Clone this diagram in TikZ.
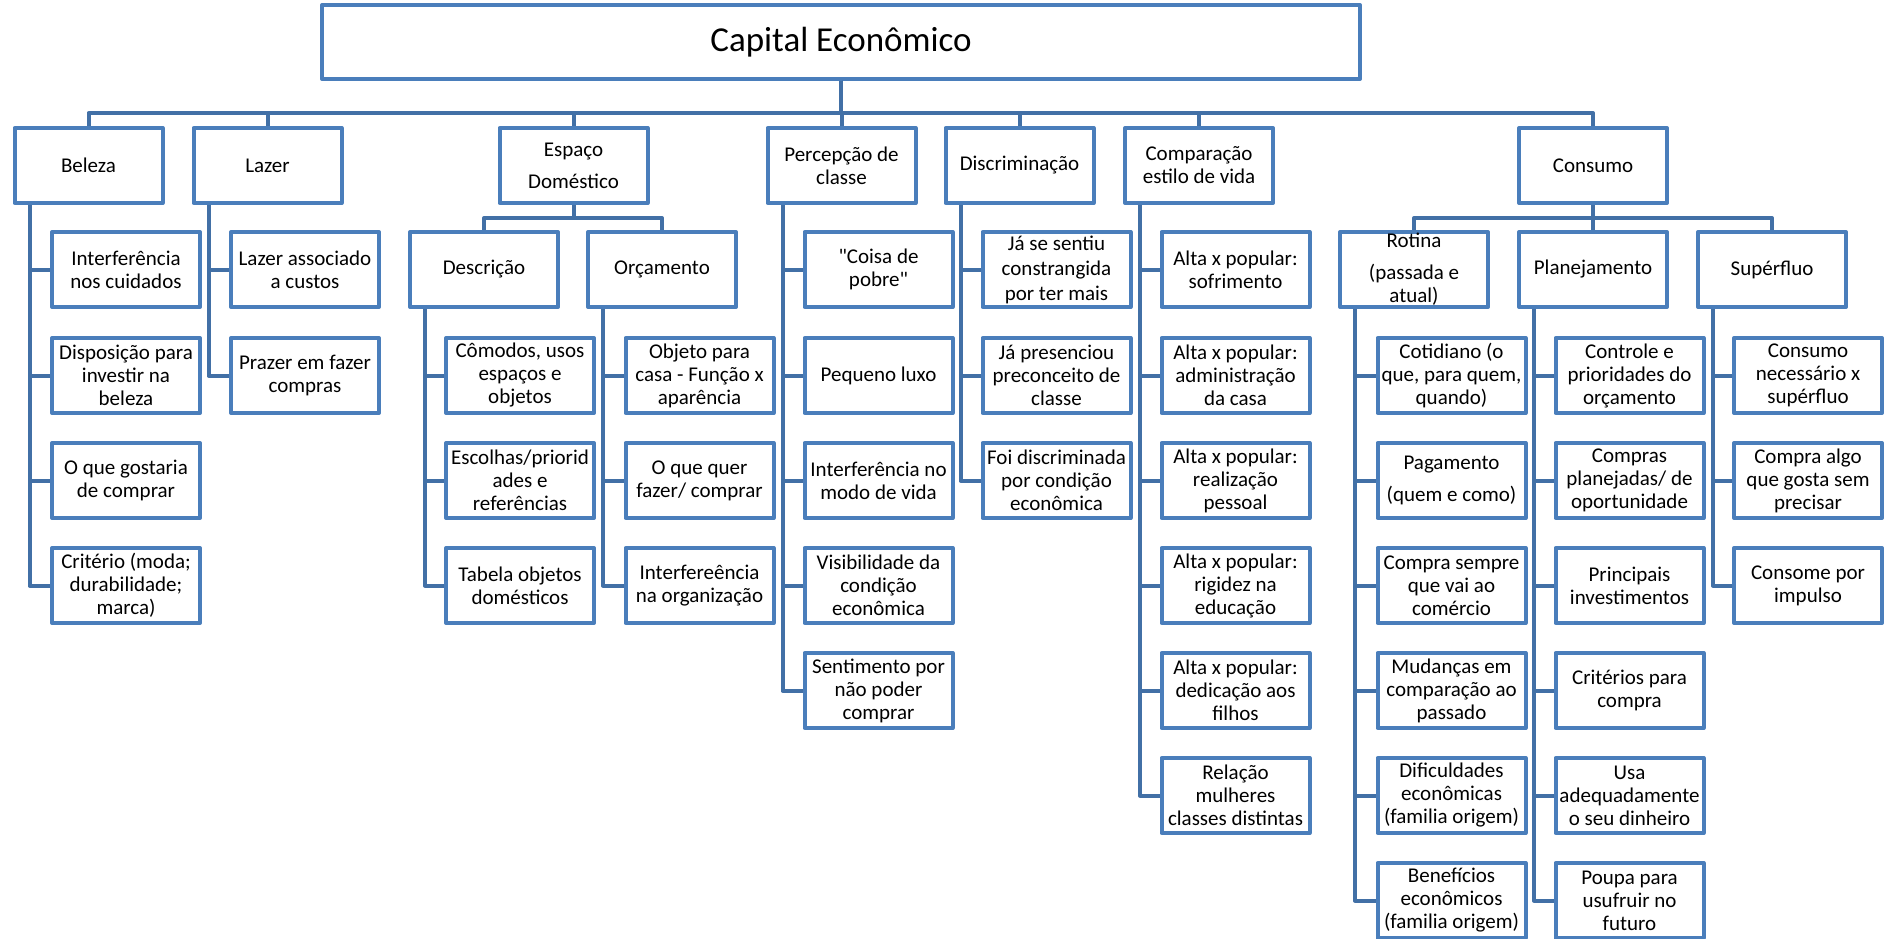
\documentclass[tikz,border=0pt]{standalone}
\usepackage{fontspec}
\setmainfont{Carlito}
% same face without TeX character mapping, for straight quotes
\newfontfamily\plainface[Ligatures=TeXOff]{Carlito}
\definecolor{boxblue}{RGB}{74,126,187}
\definecolor{lineblue}{RGB}{66,112,166}
\tikzset{
  box/.style={draw=boxblue, line width=4pt, fill=white, minimum width=148pt,
    minimum height=75pt, inner sep=0pt, line join=round},
  txt/.style={align=center, font=\fontsize{21}{23}\selectfont, inner sep=0pt, text=black},
  conn/.style={draw=lineblue, line width=4pt, line join=round},
}
% box node (empty frame) plus a centred text node on top of it
\newcommand{\bx}[4]{%
  \node[box] (#1) at (#2,#3) {};
  \node[txt] (#1-t) at (#1.center) {#4};}
% vertical spine from the parent's lower left, with a branch to each child
\newcommand{\kids}[2]{%
  \foreach \c in {#2} \draw[conn] ([xshift=17pt]#1.south west) |- (\c.west);}
% straight double quote
\newcommand{\sq}{{\plainface\char34}}
\begin{document}
\begin{tikzpicture}[x=1pt,y=-1pt]
\fill[white] (0,0) rectangle (1889,939);
\useasboundingbox (0,0) rectangle (1889,939);

% root
\node[box, minimum width=1038pt, minimum height=74pt] (root) at (841,42) {};
\node[txt, font=\fontsize{35}{40}\selectfont] (root-t) at (root.center) {Capital Econômico};

% first level
\bx{bel}{88.5}{165.5}{Beleza}
\bx{laz}{267.5}{165.5}{Lazer}
\bx{esp}{573.5}{165.5}{Espaço\\[9pt]Doméstico}
\bx{per}{841.5}{165.5}{Percepção de\\classe}
\bx{dis}{1019.5}{165.5}{Discriminação}
\bx{com}{1199}{165.5}{Comparação\\estilo de vida}
\bx{con}{1593}{165.5}{Consumo}

% second level
\bx{desc}{484}{269.5}{Descrição}
\bx{orc}{662}{269.5}{Orçamento}
\bx{rot}{1414}{269.5}{Rotina\\[9pt](passada e\\atual)}
\bx{pla}{1593}{269.5}{Planejamento}
\bx{sup}{1772}{269.5}{Supérfluo}

% Beleza
\bx{b1}{126}{269.5}{Interferência\\nos cuidados}
\bx{b2}{126}{375.5}{Disposição para\\investir na\\beleza}
\bx{b3}{126}{480.5}{O que gostaria\\de comprar}
\bx{b4}{126}{585.5}{Critério (moda;\\durabilidade;\\marca)}

% Lazer
\bx{l1}{305}{269.5}{Lazer associado\\a custos}
\bx{l2}{305}{375.5}{Prazer em fazer\\compras}

% Descrição
\bx{d1}{520}{375.5}{Cômodos, usos\\espaços e\\objetos}
\bx{d2}{520}{480.5}{Escolhas/priorid\\ades e\\referências}
\bx{d3}{520}{585.5}{Tabela objetos\\domésticos}

% Orçamento
\bx{o1}{699.5}{375.5}{Objeto para\\casa - Função x\\aparência}
\bx{o2}{699.5}{480.5}{O que quer\\fazer/ comprar}
\bx{o3}{699.5}{585.5}{Interfereência\\na organização}

% Percepção de classe
\bx{p1}{878.5}{269.5}{\sq Coisa de\\pobre\sq}
\bx{p2}{878.5}{375.5}{Pequeno luxo}
\bx{p3}{878.5}{480.5}{Interferência no\\modo de vida}
\bx{p4}{878.5}{585.5}{Visibilidade da\\condição\\econômica}
\bx{p5}{878.5}{690.5}{Sentimento por\\não poder\\comprar}

% Discriminação
\bx{s1}{1056.5}{269.5}{Já se sentiu\\[2pt]constrangida\\[2pt]por ter mais}
\bx{s2}{1056.5}{375.5}{Já presenciou\\preconceito de\\classe}
\bx{s3}{1056.5}{480.5}{Foi discriminada\\por condição\\econômica}

% Comparação estilo de vida
\bx{c1}{1235.5}{269.5}{Alta x popular:\\sofrimento}
\bx{c2}{1235.5}{375.5}{Alta x popular:\\administração\\da casa}
\bx{c3}{1235.5}{480.5}{Alta x popular:\\realização\\pessoal}
\bx{c4}{1235.5}{585.5}{Alta x popular:\\rigidez na\\educação}
\bx{c5}{1235.5}{690.5}{Alta x popular:\\dedicação aos\\filhos}
\bx{c6}{1235.5}{795.5}{Relação\\mulheres\\classes distintas}

% Rotina
\bx{r1}{1451.5}{375.5}{Cotidiano (o\\que, para quem,\\quando)}
\bx{r2}{1451.5}{480.5}{Pagamento\\[9pt](quem e como)}
\bx{r3}{1451.5}{585.5}{Compra sempre\\que vai ao\\comércio}
\bx{r4}{1451.5}{690.5}{Mudanças em\\comparação ao\\passado}
\bx{r5}{1451.5}{795.5}{Dificuldades\\econômicas\\(familia origem)}
\bx{r6}{1451.5}{900.5}{Benefícios\\econômicos\\(familia origem)}

% Planejamento
\bx{n1}{1629.5}{375.5}{Controle e\\prioridades do\\orçamento}
\bx{n2}{1629.5}{480.5}{Compras\\planejadas/ de\\oportunidade}
\bx{n3}{1629.5}{585.5}{Principais\\investimentos}
\bx{n4}{1629.5}{690.5}{Critérios para\\compra}
\bx{n5}{1629.5}{795.5}{Usa\\adequadamente\\o seu dinheiro}
\bx{n6}{1629.5}{900.5}{Poupa para\\usufruir no\\futuro}

% Supérfluo
\bx{f1}{1808}{375.5}{Consumo\\necessário x\\supérfluo}
\bx{f2}{1808}{480.5}{Compra algo\\que gosta sem\\precisar}
\bx{f3}{1808}{585.5}{Consome por\\impulso}

% buses from the root and from the two split nodes
\coordinate (busA) at (0,113);
\coordinate (busB) at (0,218);
\foreach \n in {bel,laz,esp,per,dis,com,con}
  \draw[conn] (root.south) -- (root.south |- busA) -| (\n.north);
\foreach \n in {desc,orc}
  \draw[conn] (esp.south) -- (esp.south |- busB) -| (\n.north);
\foreach \n in {rot,pla,sup}
  \draw[conn] (con.south) -- (con.south |- busB) -| (\n.north);

% spines to the leaves
\kids{bel}{b1,b2,b3,b4}
\kids{laz}{l1,l2}
\kids{desc}{d1,d2,d3}
\kids{orc}{o1,o2,o3}
\kids{per}{p1,p2,p3,p4,p5}
\kids{dis}{s1,s2,s3}
\kids{com}{c1,c2,c3,c4,c5,c6}
\kids{rot}{r1,r2,r3,r4,r5,r6}
\kids{pla}{n1,n2,n3,n4,n5,n6}
\kids{sup}{f1,f2,f3}
\end{tikzpicture}
\end{document}
